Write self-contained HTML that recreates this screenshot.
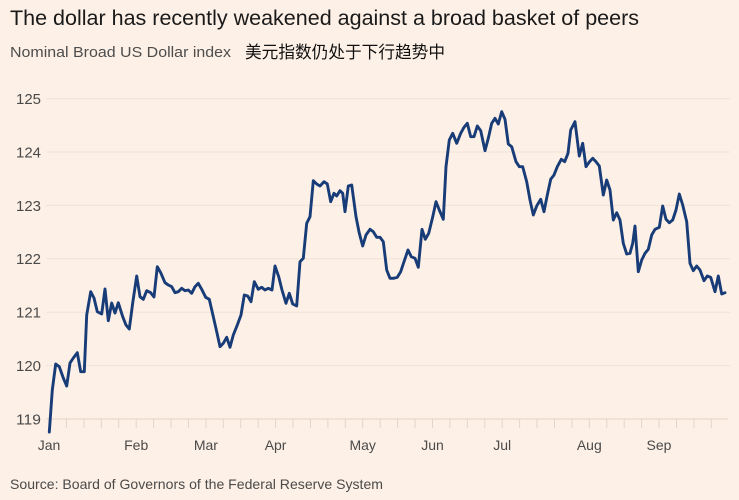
<!DOCTYPE html>
<html><head><meta charset="utf-8"><style>
html,body{margin:0;padding:0;background:#fdf0e6;}
svg{display:block;}
text{font-family:"Liberation Sans","Noto Sans CJK SC",sans-serif;}
</style></head><body>
<svg width="739" height="500" viewBox="0 0 739 500" xmlns="http://www.w3.org/2000/svg">
<rect width="739" height="500" fill="#fdf0e6"/>
<text x="10" y="25" font-size="21" fill="#1a1a1a" textLength="629" lengthAdjust="spacingAndGlyphs">The dollar has recently weakened against a broad basket of peers</text>
<text x="10" y="57" font-size="15" fill="#4d4d4d" textLength="221" lengthAdjust="spacingAndGlyphs">Nominal Broad US Dollar index</text>
<text x="245" y="58" font-size="17" fill="#111" textLength="200" lengthAdjust="spacingAndGlyphs" style='font-family:"Liberation Sans","Noto Sans CJK SC",sans-serif'>美元指数仍处于下行趋势中</text>
<g stroke="#f1e2d6" stroke-width="1">
<line x1="46" y1="98.6" x2="730" y2="98.6"/>
<line x1="46" y1="152" x2="730" y2="152"/>
<line x1="46" y1="205.4" x2="730" y2="205.4"/>
<line x1="46" y1="258.8" x2="730" y2="258.8"/>
<line x1="46" y1="312.2" x2="730" y2="312.2"/>
<line x1="46" y1="365.6" x2="730" y2="365.6"/>
</g>
<line x1="46" y1="419" x2="728" y2="419" stroke="#e6d5c7" stroke-width="1"/>
<g font-size="14.5" fill="#4a4a4a">
<text x="16" y="104" textLength="25" lengthAdjust="spacingAndGlyphs">125</text>
<text x="16" y="157.4" textLength="25" lengthAdjust="spacingAndGlyphs">124</text>
<text x="16" y="210.8" textLength="25" lengthAdjust="spacingAndGlyphs">123</text>
<text x="16" y="264.2" textLength="25" lengthAdjust="spacingAndGlyphs">122</text>
<text x="16" y="317.6" textLength="25" lengthAdjust="spacingAndGlyphs">121</text>
<text x="16" y="371" textLength="25" lengthAdjust="spacingAndGlyphs">120</text>
<text x="16" y="424.4" textLength="25" lengthAdjust="spacingAndGlyphs">119</text>
</g>
<g font-size="14" fill="#4a4a4a" text-anchor="middle">
<text x="49" y="450">Jan</text>
<text x="136.2" y="450">Feb</text>
<text x="205.9" y="450">Mar</text>
<text x="275.6" y="450">Apr</text>
<text x="362.7" y="450">May</text>
<text x="432.5" y="450">Jun</text>
<text x="502.2" y="450">Jul</text>
<text x="589.3" y="450">Aug</text>
<text x="659" y="450">Sep</text>
</g>
<text x="10" y="489" font-size="14" fill="#4a4a4a" textLength="373" lengthAdjust="spacingAndGlyphs">Source: Board of Governors of the Federal Reserve System</text>
<g stroke="#e6d5c7" stroke-width="1">
<line x1="49" y1="419" x2="49" y2="428"/><line x1="66.4" y1="419" x2="66.4" y2="428"/><line x1="83.9" y1="419" x2="83.9" y2="428"/><line x1="101.3" y1="419" x2="101.3" y2="428"/><line x1="118.7" y1="419" x2="118.7" y2="428"/><line x1="136.2" y1="419" x2="136.2" y2="428"/><line x1="153.6" y1="419" x2="153.6" y2="428"/><line x1="171" y1="419" x2="171" y2="428"/><line x1="188.4" y1="419" x2="188.4" y2="428"/><line x1="205.9" y1="419" x2="205.9" y2="428"/><line x1="223.3" y1="419" x2="223.3" y2="428"/><line x1="240.7" y1="419" x2="240.7" y2="428"/><line x1="258.2" y1="419" x2="258.2" y2="428"/><line x1="275.6" y1="419" x2="275.6" y2="428"/><line x1="293" y1="419" x2="293" y2="428"/><line x1="310.5" y1="419" x2="310.5" y2="428"/><line x1="327.9" y1="419" x2="327.9" y2="428"/><line x1="345.3" y1="419" x2="345.3" y2="428"/><line x1="362.7" y1="419" x2="362.7" y2="428"/><line x1="380.2" y1="419" x2="380.2" y2="428"/><line x1="397.6" y1="419" x2="397.6" y2="428"/><line x1="415" y1="419" x2="415" y2="428"/><line x1="432.5" y1="419" x2="432.5" y2="428"/><line x1="449.9" y1="419" x2="449.9" y2="428"/><line x1="467.3" y1="419" x2="467.3" y2="428"/><line x1="484.8" y1="419" x2="484.8" y2="428"/><line x1="502.2" y1="419" x2="502.2" y2="428"/><line x1="519.6" y1="419" x2="519.6" y2="428"/><line x1="537" y1="419" x2="537" y2="428"/><line x1="554.5" y1="419" x2="554.5" y2="428"/><line x1="571.9" y1="419" x2="571.9" y2="428"/><line x1="589.3" y1="419" x2="589.3" y2="428"/><line x1="606.8" y1="419" x2="606.8" y2="428"/><line x1="624.2" y1="419" x2="624.2" y2="428"/><line x1="641.6" y1="419" x2="641.6" y2="428"/><line x1="659" y1="419" x2="659" y2="428"/><line x1="676.5" y1="419" x2="676.5" y2="428"/><line x1="693.9" y1="419" x2="693.9" y2="428"/><line x1="711.3" y1="419" x2="711.3" y2="428"/>
</g>
<polyline fill="none" stroke="#183c78" stroke-width="2.9" stroke-linejoin="round" stroke-linecap="round" points="
49.3,432 52.3,390 55.7,364 59.3,366.7 63.3,378 66.7,386 70,363 73.3,358 77.3,352.7 80.7,371.7 84.3,371.7 86.7,315 90.7,291.7 94,298 97.3,311.7 101.7,314 105,289 108.3,320.7 111.7,303 115,313 118.3,302.7 122.7,316.7 126,325 129.3,329 132.7,303 136.7,276 140,296.7 143.3,299.3 146.7,290.7 150.7,292.7 154,297 157.3,266.7 160.7,272.7 165,282.7 168.3,285 171.7,286.7 175,292.7 178.3,291.7 181.7,288.3 185,290.7 188.3,290 191.7,293.3 195,286.7 198.3,283.3 201.7,289.3 205.7,297.3 209.3,299.3 213.3,316.7 216.7,331.7 220,346.7 223.3,343.3 226.7,337.3 230,347.3 233.3,335 237.3,325 241,315 244.3,295 247.7,296 251,301.7 254.3,281.7 258.3,289.3 261.7,287.3 265,290 268.3,288.3 272,290 275,266 278.7,276.7 282,290 286,303.3 289.3,293.3 292.7,304 296.7,306 300,261.7 303.3,258.3 306.7,223.3 310,216.7 313.3,180.7 316.7,184 320,186 324,181.7 327.3,184 330.7,201.7 334,193.3 336.7,196 340,190.7 342.7,193.3 345,211.7 348.3,186 351.7,185 356,216.7 359.3,233.3 362.7,246 366,235 370,229.3 373.3,231.7 376.7,237.3 380,237.3 383.3,241.7 386.7,270 390,278.3 393.3,278.3 397.3,277.3 400.7,271.7 404,261.7 408,250 411.3,256.7 415,258.3 418.3,267.3 422,229.3 425.3,239.3 428.7,233.3 432.7,217 436,201.7 439.3,210 443.3,219.3 446,166.7 449.3,140 452.7,133.3 456.7,143.3 460.7,133.3 464,127.3 467.3,123.3 470.7,136.7 474,136.7 477.3,126 480.7,130.7 485,150.7 488.3,138.3 491.7,123.3 495,118.3 498.3,124 501.7,111.7 505,119.3 508.3,144 511.7,146.7 516,161.7 519.3,166.7 522.7,166.7 526.7,181.7 530,200 533.3,215 536.7,206 540.7,199.3 544,211.7 547.3,195 550.7,179.3 554,175 557.3,166.7 561.3,159.3 564.7,161.7 568,153.3 570.7,130 575,121.7 579.3,156 582.7,143.3 586,166.7 589.3,162 592.7,158.3 596,161.7 599.3,166 603.3,195 606.7,180 610,190 613.3,220 616.7,212.7 620,220 623.3,243.3 626.7,254 630,253.3 632.7,243.3 635,226 638.3,271.7 641.7,260 645,253.3 648.3,249.3 651.7,235 655,229.3 659.3,227.3 662.7,206 666,219.3 669.3,222.7 672.7,220 676,210 679.3,194 682.7,205 686.7,221.7 690,263.3 693.3,270.7 696.7,266 700,270 704,280.7 707.3,276 710.7,277.3 715,291.7 718.3,276 721.7,294 725,292.7"/>
</svg>
</body></html>
